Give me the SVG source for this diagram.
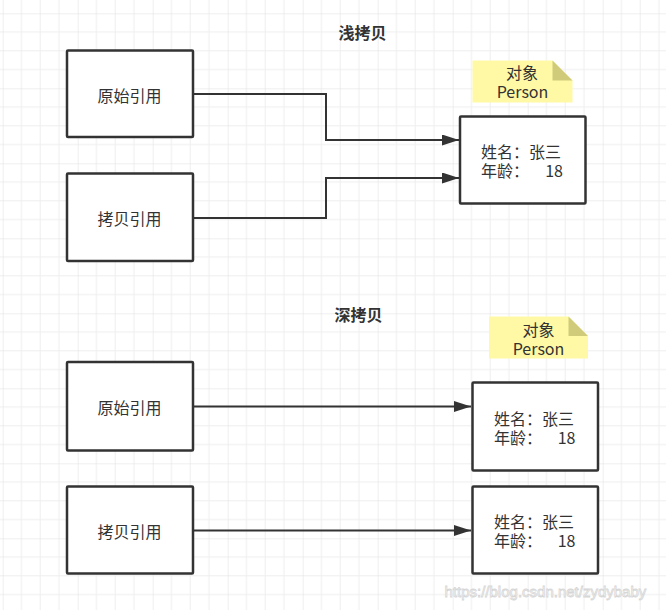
<svg xmlns="http://www.w3.org/2000/svg" width="666" height="610" viewBox="0 0 666 610">
  <style>
    .box { fill: #ffffff; stroke: #333333; stroke-width: 2.5; }
    .conn { fill: none; stroke: #333333; stroke-width: 2; }
    .note { fill: #fff9a6; }
    .fold { fill: #cfcb7a; }
    .t { font-family: "Noto Sans CJK SC", "Noto Sans", sans-serif; font-size: 16px; fill: #333333; dominant-baseline: central; }
    .c { text-anchor: middle; }
    .title { font-family: "Noto Sans CJK SC", "Noto Sans", sans-serif; font-size: 16px; font-weight: bold; fill: #333333; text-anchor: middle; dominant-baseline: central; }
    .wm { font-family: "Liberation Sans", Arial, sans-serif; font-size: 15px; fill: #ffffff; stroke: #d6d6d6; stroke-width: 0.8; }
  </style>
  <defs>
    <pattern id="grid" patternUnits="userSpaceOnUse" x="2.7" y="13.3" width="75" height="75">
      <path d="M18.75 0V75M37.5 0V75M56.25 0V75M0 18.75H75M0 37.5H75M0 56.25H75" stroke="#eeeeee" stroke-width="1" fill="none"/>
      <path d="M0 0V75M0 0H75" stroke="#e0e0e0" stroke-width="1" fill="none"/>
    </pattern>
    <marker id="arrow" markerUnits="userSpaceOnUse" markerWidth="18" markerHeight="12" refX="17" refY="5.5" orient="auto">
      <path d="M0 0L17 5.5L0 11Z" fill="#333333"/>
    </marker>
  </defs>
  <rect width="666" height="610" fill="#ffffff"/>
  <rect width="666" height="610" fill="url(#grid)"/>

  <text class="title" x="362.5" y="32">浅拷贝</text>
  <text class="title" x="358.5" y="313.5">深拷贝</text>

  <g id="connectors">
    <path class="conn" d="M193 94H326V140H459" marker-end="url(#arrow)"/>
    <path class="conn" d="M193 218H326V178H459" marker-end="url(#arrow)"/>
    <path class="conn" d="M193 406.5H471" marker-end="url(#arrow)"/>
    <path class="conn" d="M193 530.5H471" marker-end="url(#arrow)"/>
  </g>

  <g id="shallow-original">
    <rect class="box" x="67" y="50.5" width="126" height="86.5" rx="1"/>
    <text class="t c" x="129.5" y="95">原始引用</text>
  </g>
  <g id="shallow-copy">
    <rect class="box" x="67" y="173.5" width="126" height="87.5" rx="1"/>
    <text class="t c" x="129.5" y="218">拷贝引用</text>
  </g>
  <g id="shallow-note">
    <path class="note" d="M472.5 60.5H552.5L572.5 80.5V102.5H472.5Z"/>
    <path class="fold" d="M552.5 60.5L572.5 80.5H552.5Z"/>
    <text class="t c" x="522" y="71.5">对象<tspan x="522.5" y="90.5">Person</tspan></text>
  </g>
  <g id="shallow-person">
    <rect class="box" x="460" y="116.5" width="125.5" height="87" rx="1"/>
    <text class="t" x="481" y="151">姓名：张三<tspan x="481" y="170">年龄：</tspan><tspan x="563" y="170" text-anchor="end">18</tspan></text>
  </g>

  <g id="deep-original">
    <rect class="box" x="67" y="362" width="126" height="88.5" rx="1"/>
    <text class="t c" x="129.5" y="406.5">原始引用</text>
  </g>
  <g id="deep-copy">
    <rect class="box" x="67" y="486.5" width="126" height="87" rx="1"/>
    <text class="t c" x="129.5" y="530.5">拷贝引用</text>
  </g>
  <g id="deep-note">
    <path class="note" d="M489 316.5H568.5L588 336V358.5H489Z"/>
    <path class="fold" d="M568.5 316.5L588 336H568.5Z"/>
    <text class="t c" x="538.5" y="328.5">对象<tspan x="538.5" y="348">Person</tspan></text>
  </g>
  <g id="deep-person-1">
    <rect class="box" x="472.5" y="382.5" width="125.5" height="88" rx="1"/>
    <text class="t" x="494" y="417.5">姓名：张三<tspan x="494" y="436.5">年龄：</tspan><tspan x="575.5" y="436.5" text-anchor="end">18</tspan></text>
  </g>
  <g id="deep-person-2">
    <rect class="box" x="472.5" y="486.5" width="125.5" height="87" rx="1"/>
    <text class="t" x="494" y="521">姓名：张三<tspan x="494" y="540">年龄：</tspan><tspan x="575.5" y="540" text-anchor="end">18</tspan></text>
  </g>

  <text class="wm" x="444.5" y="597">https://blog.csdn.net/zydybaby</text>
</svg>
